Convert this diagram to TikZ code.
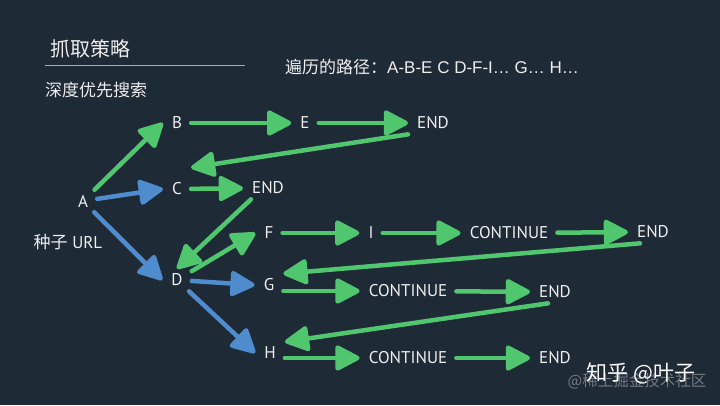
\documentclass[tikz,border=0pt]{standalone}
\usepackage{fontspec}
\setmainfont{PT Sans}
\newfontfamily\cjk{Noto Sans CJK SC}
\newfontfamily\hel{Liberation Sans}
\usetikzlibrary{arrows.meta}
\definecolor{bg}{RGB}{31,42,55}
\definecolor{grn}{RGB}{80,198,110}
\definecolor{blu}{RGB}{78,140,205}
\definecolor{gold}{RGB}{196,168,92}
\definecolor{txt}{RGB}{238,238,238}
\definecolor{wmgray}{RGB}{150,155,160}
\begin{document}
\begin{tikzpicture}[x=1pt,y=-1pt,
  lbl/.style={text=txt,font=\fontsize{17}{20}\selectfont,inner xsep=9pt,inner ysep=5pt},
  garrow/.style={draw=grn,line width=4.5pt,line cap=round,-{Triangle[length=27pt 0,width=27pt 0,round]}},
  barrow/.style={garrow,draw=blu}]
\useasboundingbox[fill=bg] (0,0) rectangle (720,405);
% title
\node[anchor=west,text=txt,inner sep=0,font=\cjk\fontsize{20}{24}\selectfont] (title) at (50,49) {抓取策略};
\draw[gold,line width=1pt] (45,65) -- (245,65);
\node[anchor=west,text=txt,inner sep=0,font=\cjk\fontsize{17}{20}\selectfont] (sub) at (45,90) {深度优先搜索};
\node[anchor=west,text=txt,inner sep=0,font=\fontsize{17}{20}\selectfont] (path) at (285,67) {{\cjk 遍历的路径：}\hel A-B-E C D-F-I… G… H…};
% nodes
\node[lbl] (A) at (83,201) {A};
\node[text=txt,inner sep=0,font=\fontsize{17}{20}\selectfont] (seed) at (68,242) {{\cjk 种子} URL};
\node[lbl] (B) at (177,123) {B};
\node[lbl] (E) at (305,123) {E};
\node[lbl] (end1) at (433,123) {END};
\node[lbl] (C) at (177,189) {C};
\node[lbl] (endC) at (268,188) {END};
\node[lbl] (D) at (177,280) {D};
\node[lbl] (F) at (269,233) {F};
\node[lbl] (I) at (371,233) {I};
\node[lbl] (cont1) at (509,233) {CONTINUE};
\node[lbl] (end2) at (653,232) {END};
\node[lbl] (G) at (269,285) {G};
\node[lbl] (cont2) at (408,291) {CONTINUE};
\node[lbl] (end3) at (555,292) {END};
\node[lbl] (H) at (270,353) {H};
\node[lbl] (cont3) at (408,358) {CONTINUE};
\node[lbl] (end4) at (555,358) {END};
% arrows
\draw[garrow] (A) -- (B.west);
\draw[barrow] (A) -- (C.west);
\draw[barrow] (A) -- (D.west);
\draw[garrow] (B) -- (E);
\draw[garrow] (E) -- (end1);
\draw[garrow] (end1.south west) -- ([yshift=10pt]C.north east);
\draw[garrow] (C) -- (endC);
\draw[garrow] ([xshift=8pt]endC.south west) -- (D.north);
\draw[garrow] (D) -- (F.west);
\draw[barrow] (D) -- (G.west);
\draw[barrow] (D) -- (H.west);
\draw[garrow] (F) -- (I);
\draw[garrow] (I) -- (cont1);
\draw[garrow] (cont1) -- (end2);
\draw[garrow] ([xshift=12pt]end2.south west) -- (G.north east);
\draw[garrow] (cont2.west -| G.east) -- (cont2.west);
\draw[garrow] (cont2) -- (end3);
\draw[garrow] ([xshift=18pt]end3.south west) -- (H.north east);
\draw[garrow] (cont3.west -| H.east) -- (cont3.west);
\draw[garrow] (cont3) -- (end4);
% watermarks
\node[text=wmgray,opacity=0.7,inner sep=0,font=\cjk\fontsize{15.5}{18}\selectfont] (wm2) at (637,381) {@稀土掘金技术社区};
\node[text=white,inner sep=0,font=\cjk\fontsize{21}{24}\selectfont] (wm1) at (641,373) {知乎 @叶子};
\end{tikzpicture}
\end{document}
